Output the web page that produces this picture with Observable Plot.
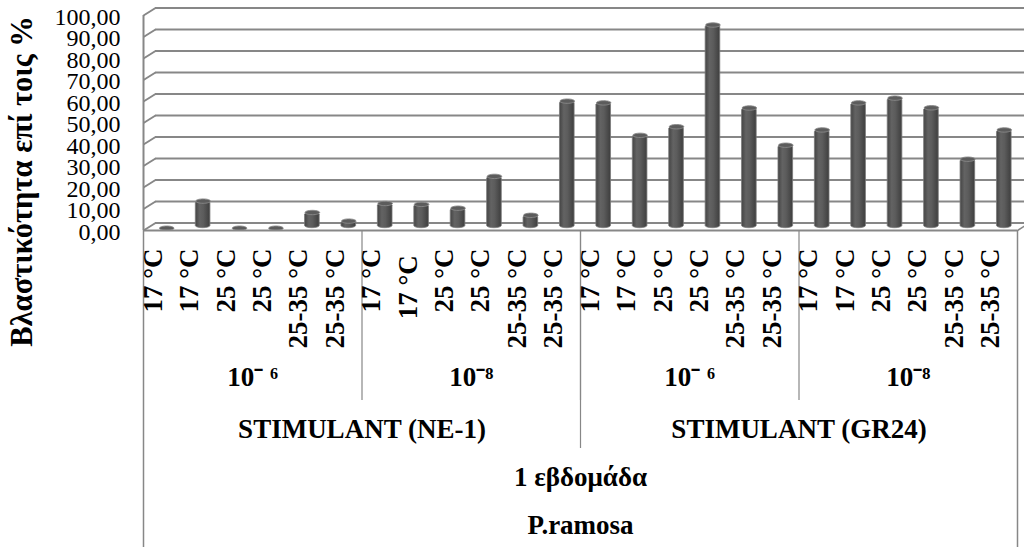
<!DOCTYPE html>
<html>
<head>
<meta charset="utf-8">
<script src="https://cdn.jsdelivr.net/npm/d3@7"></script>
<script src="https://cdn.jsdelivr.net/npm/@observablehq/plot@0.6"></script>
<style>
  html, body { margin: 0; padding: 0; background: #ffffff; }
  #chart { width: 1024px; height: 547px; overflow: hidden; }
</style>
</head>
<body>
<div id="chart"></div>
<script>
// Germination (%) per treatment, one week, P. ramosa
const temperature = [
  "17 °C", "17 °C", "25 °C", "25 °C", "25-35 °C", "25-35 °C",
  "17 °C", "17 °C\u00a0", "25 °C", "25 °C", "25-35 °C", "25-35 °C",
  "17 °C", "17 °C", "25 °C", "25 °C", "25-35 °C", "25-35 °C",
  "17 °C", "17 °C", "25 °C", "25 °C", "25-35 °C", "25-35 °C"
];
const germination = [
  0, 12.6, 0, 0, 7.3, 3.3,
  11.5, 11.1, 9.3, 24.1, 6.0, 59.1,
  58.3, 43.2, 47.2, 94.5, 55.9, 38.6,
  45.7, 58.3, 60.5, 56.0, 32.1, 45.7
];
const concentration = ["10\u207B \u2076", "10\u207B\u2078", "10\u207B \u2076", "10\u207B\u2078"];
const stimulant = ["STIMULANT (NE-1)", "STIMULANT (GR24)"];
const period = ["1 εβδομάδα"];
const species = ["P.ramosa"];
const yTicks = [0, 10, 20, 30, 40, 50, 60, 70, 80, 90, 100];
const yTitle = "Βλαστικότητα επί τοις %";

const n = temperature.length;
const bars = germination.map((value, i) => ({i, value, label: temperature[i]}));
const formatValue = d => d.toFixed(2).replace(".", ",");

// Label rows of the hierarchical category axis: centre of each group and group boundaries
function row(labels) {
  const size = n / labels.length;
  return labels.map((text, k) => ({text, x: k * size + (size - 1) / 2}));
}
function bounds(labels) {
  const size = n / labels.length;
  return d3.range(1, labels.length).map(k => k * size - 0.5);
}

// Oblique offset of the back wall (pixels)
const depth = [12, -7.5];
// Link curve that draws from the front point to the back-wall point
const depthCurve = (context) => {
  let k = 0;
  return {
    lineStart() { k = 0; },
    lineEnd() {},
    point(x, y) {
      if (k++ === 0) context.moveTo(x, y);
      else context.lineTo(x + depth[0], y + depth[1]);
    }
  };
};
// Flat ellipse for the cylinder caps
const ellipse = {
  draw(context, size) {
    const rx = Math.sqrt(size / Math.PI), ry = rx * 0.3, c = 0.5523;
    context.moveTo(rx, 0);
    context.bezierCurveTo(rx, ry * c, rx * c, ry, 0, ry);
    context.bezierCurveTo(-rx * c, ry, -rx, ry * c, -rx, 0);
    context.bezierCurveTo(-rx, -ry * c, -rx * c, -ry, 0, -ry);
    context.bezierCurveTo(rx * c, -ry, rx, -ry * c, rx, 0);
    context.closePath();
  }
};

const serif = "Liberation Serif, Times New Roman, serif";
const gridColor = "#878787";
const labelFont = {fontWeight: "bold", fontSize: 27, fill: "black", fontFamily: serif};
const xMin = -0.5, xMax = n - 0.5;

const chart = Plot.plot({
  width: 1024,
  height: 547,
  marginLeft: 143,
  marginRight: 7,
  marginTop: 15,
  marginBottom: 317,
  style: {background: "white", color: "black", fontFamily: serif},
  x: {domain: [xMin, xMax], axis: null},
  y: {domain: [0, 100], axis: null},
  marks: [
    // back wall grid
    Plot.ruleY(yTicks, {x1: xMin, x2: xMax, dx: depth[0], dy: depth[1], stroke: gridColor, strokeWidth: 2}),
    // left wall oblique ticks and right floor edge
    Plot.link(yTicks, {x1: xMin, x2: xMin, y1: d => d, y2: d => d, curve: depthCurve, stroke: gridColor, strokeWidth: 2}),
    Plot.link([0], {x1: xMax, x2: xMax, y1: d => d, y2: d => d, curve: depthCurve, stroke: gridColor, strokeWidth: 1.5}),
    // left wall front edge
    Plot.ruleX([xMin], {y1: 0, y2: 100, stroke: gridColor, strokeWidth: 2}),
    // value axis tick labels
    Plot.text(yTicks, {y: d => d, text: formatValue, frameAnchor: "left", textAnchor: "end", dx: -23, dy: 1.5, fontSize: 24, fill: "black", fontFamily: serif}),
    // cylinders
    Plot.rect(bars, {
      x1: d => d.i - 0.5, x2: d => d.i + 0.5, y1: 0, y2: "value",
      insetLeft: 10.9, insetRight: 10.9, rx: 7.3, ry: 2.2,
      dx: 5, dy: -2.3,
      fill: "url(#cylinderShade)", stroke: "#7a7a7a", strokeWidth: 0.8
    }),
    Plot.dot(bars, {
      x: "i", y: "value", r: 7.3, symbol: ellipse, dx: 5, dy: -2.3,
      fill: "#5c5c5c", stroke: "#8a8a8a", strokeWidth: 0.9
    }),
    // category axis box
    Plot.ruleY([0], {x1: xMin, x2: xMax, stroke: gridColor, strokeWidth: 2}),
    Plot.ruleX([xMin, xMax], {y1: 0, y2: 0, insetBottom: -317, stroke: gridColor, strokeWidth: 1.5}),
    Plot.ruleX(bounds(concentration), {y1: 0, y2: 0, insetBottom: -170, stroke: gridColor, strokeWidth: 1.2}),
    Plot.ruleX(bounds(stimulant), {y1: 0, y2: 0, insetBottom: -218, stroke: gridColor, strokeWidth: 1.2}),
    // category labels
    Plot.text(bars, {x: "i", text: "label", frameAnchor: "bottom", rotate: -90, textAnchor: "end", dy: 18, ...labelFont}),
    Plot.text(row(concentration), {x: "x", text: "text", frameAnchor: "bottom", dy: 155, ...labelFont}),
    Plot.text(row(stimulant), {x: "x", text: "text", frameAnchor: "bottom", dy: 207, ...labelFont}),
    Plot.text(row(period), {x: "x", text: "text", frameAnchor: "bottom", dy: 255, ...labelFont}),
    Plot.text(row(species), {x: "x", text: "text", frameAnchor: "bottom", dy: 303, ...labelFont}),
    // value axis title
    Plot.text([yTitle], {text: d => d, frameAnchor: "left", rotate: -90, textAnchor: "middle", dx: -121, dy: 58.5, ...labelFont, fontSize: 30.5})
  ]
});

// shading for the cylinder bodies
const svg = d3.select(chart);
const grad = svg.insert("defs", ":first-child")
  .append("linearGradient").attr("id", "cylinderShade")
  .attr("x1", "0%").attr("x2", "100%").attr("y1", "0%").attr("y2", "0%");
[["0%", "#444444"], ["30%", "#636363"], ["55%", "#5c5c5c"], ["100%", "#3e3e3e"]]
  .forEach(([o, c]) => grad.append("stop").attr("offset", o).attr("stop-color", c));

document.getElementById("chart").appendChild(chart);
</script>
</body>
</html>
